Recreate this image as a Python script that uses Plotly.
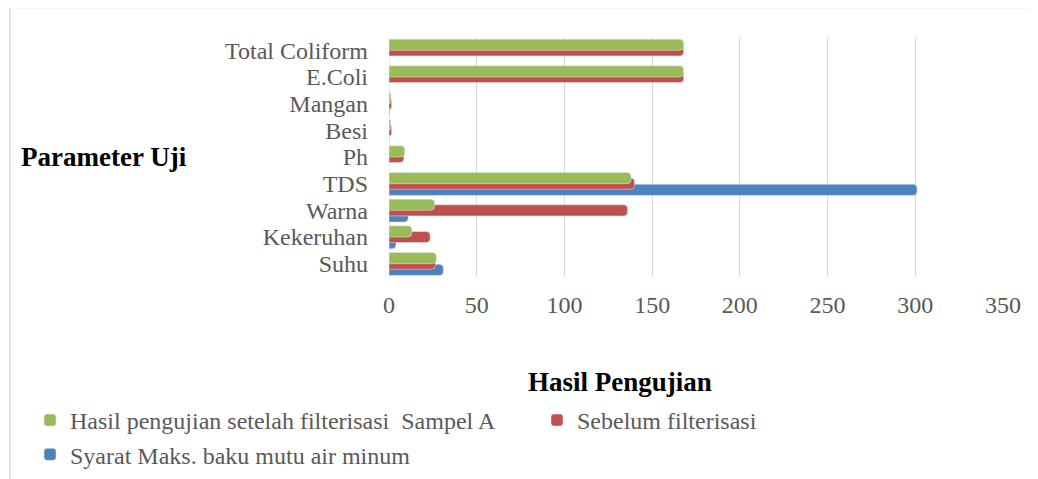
import plotly.graph_objects as go

categories = ["Suhu", "Kekeruhan", "Warna", "TDS", "Ph", "Besi", "Mangan", "E.Coli", "Total Coliform"]
after_filter = [27, 13, 26, 138, 9, 1, 1, 168, 168]
before_filter = [26.5, 23.5, 136, 140, 8.5, 1.5, 1.5, 168, 168]
max_standard = [31, 4, 11, 301, 0, 0.3, 0.4, 0, 0]

x_ticks = [0, 50, 100, 150, 200, 250, 300, 350]

names = {
    "after": "Hasil pengujian setelah filterisasi  Sampel A",
    "before": "Sebelum filterisasi",
    "max": "Syarat Maks. baku mutu air minum",
}
colors = {"after": "#9BBB59", "before": "#C0504D", "max": "#4F81BD"}

FONT = "Liberation Serif"
# page body has an 8px margin; figure sized to fit the window
W, H = 1030, 471
L, T = 381, 29
PW, PH = 614, 240
R = W - L - PW
B = H - T - PH
PLOT_LEFT_PAGE, PLOT_BOTTOM_PAGE = 389, 277


def px_x(p):
    return (p - PLOT_LEFT_PAGE) / PW


def px_y(p):
    return (PLOT_BOTTOM_PAGE - p) / PH


fig = go.Figure()
fig.add_trace(go.Bar(y=categories, x=max_standard, orientation="h", name=names["max"],
                     marker_color=colors["max"], width=0.42, offset=-0.44,
                     legend="legend", legendgroup="g3", legendrank=2))
fig.add_trace(go.Bar(y=categories, x=before_filter, orientation="h", name=names["before"],
                     marker_color=colors["before"], width=0.42, offset=-0.21,
                     legend="legend2", legendgroup="g2"))
fig.add_trace(go.Bar(y=categories, x=after_filter, orientation="h", name=names["after"],
                     marker_color=colors["after"], width=0.42, offset=0.0,
                     legend="legend", legendgroup="g1", legendrank=1))

legend_font = dict(family=FONT, size=24, color="#595959")

fig.update_layout(
    width=W, height=H,
    margin=dict(l=L, r=R, t=T, b=B, autoexpand=False),
    barmode="overlay",
    barcornerradius=4,
    paper_bgcolor="white",
    plot_bgcolor="white",
    font=dict(family=FONT, size=24, color="#595959"),
    showlegend=True,
    legend=dict(
        orientation="v", traceorder="normal",
        x=px_x(30), xanchor="left", y=px_y(398), yanchor="top",
        tracegroupgap=3, font=legend_font, bgcolor="rgba(0,0,0,0)",
    ),
    legend2=dict(
        orientation="v",
        x=px_x(537), xanchor="left", y=px_y(398), yanchor="top",
        font=legend_font, bgcolor="rgba(0,0,0,0)",
    ),
    xaxis=dict(
        range=[0, 350], tickvals=x_ticks, ticktext=[str(v) for v in x_ticks],
        showgrid=True, gridcolor="#D9D9D9", gridwidth=1,
        zeroline=False, showline=False, ticks="",
        ticklabelstandoff=11,
        tickfont=dict(family=FONT, size=24, color="#595959"),
    ),
    yaxis=dict(
        type="category", categoryorder="array", categoryarray=categories,
        tickmode="array", tickvals=categories, ticktext=categories,
        range=[-0.5, 8.5], showgrid=False, zeroline=False,
        showline=False, ticks="", ticklabelstandoff=20,
        tickfont=dict(family=FONT, size=24, color="#595959"),
    ),
    shapes=[
        dict(type="rect", xref="paper", yref="paper",
             x0=px_x(10), x1=px_x(1100), y0=px_y(520), y1=px_y(7.5),
             line=dict(color="#D9D9D9", width=1.5), layer="below"),
        dict(type="line", xref="x", yref="paper", x0=0, x1=0, y0=0, y1=1,
             line=dict(color="#D9D9D9", width=1), layer="below"),
    ],
    annotations=[
        dict(text="<b>Parameter Uji</b>", xref="paper", yref="paper",
             x=px_x(104), y=px_y(157), xanchor="center", yanchor="middle",
             showarrow=False, font=dict(family=FONT, size=27, color="black")),
        dict(text="<b>Hasil Pengujian</b>", xref="paper", yref="paper",
             x=px_x(620), y=px_y(382), xanchor="center", yanchor="middle",
             showarrow=False, font=dict(family=FONT, size=27, color="black")),
    ],
)

fig.write_html("out.html")
